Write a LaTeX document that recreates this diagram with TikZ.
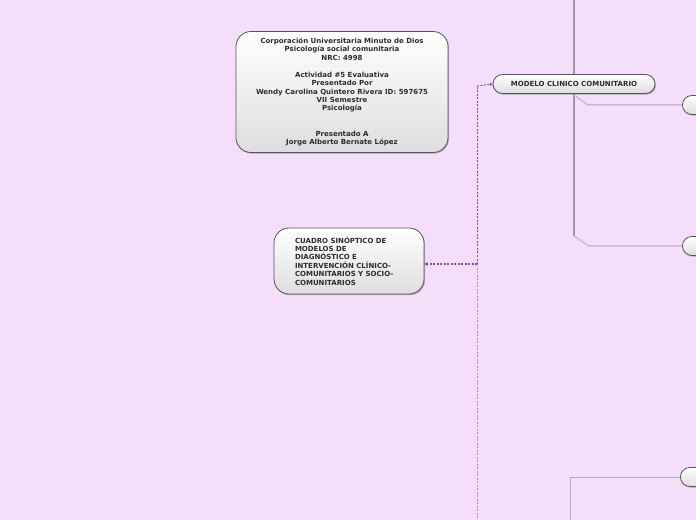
\documentclass[tikz,border=0pt]{standalone}
\usepackage{fontspec}
\setmainfont{DejaVu Sans}
\usetikzlibrary{arrows.meta,shadows}
\definecolor{bg}{RGB}{244,222,249}
\definecolor{boxline}{RGB}{85,85,90}
\definecolor{trunk}{RGB}{160,150,165}
\definecolor{branch}{RGB}{205,185,210}
\definecolor{bracket}{RGB}{185,165,195}
\definecolor{dashdark}{RGB}{125,85,160}
\definecolor{dashlight}{RGB}{180,140,210}
\definecolor{txt}{RGB}{45,45,45}
\tikzset{
  x=1bp, y=-1bp,
  topicbox/.style={draw=boxline, line width=0.8bp, top color=white, bottom color=black!13,
    drop shadow={shadow xshift=1bp, shadow yshift=-1.2bp, fill=black, opacity=0.25},
    font=\fontsize{7bp}{8.42bp}\selectfont\bfseries, text=txt, inner sep=0pt},
  pill/.style={topicbox, rounded corners=9.5bp, minimum height=19bp},
  dashlink/.style={line width=1bp, dash pattern=on 2bp off 1.5bp},
}
\begin{document}
\begin{tikzpicture}
\useasboundingbox (0,0) rectangle (696,520);
\clip (0,0) rectangle (696,520);
\fill[bg] (0,0) rectangle (696,520);

% trunk and branches
\coordinate (ttop) at (574,-2);
\coordinate (tbend) at (574,236);
\coordinate (b1s) at (574,95);
\draw[trunk, line width=2bp] (ttop) -- (tbend);
\draw[branch, line width=1.5bp] (b1s) -- (588,105) -- (683,105);
\draw[branch, line width=1.5bp] (tbend) -- (589,246) -- (683,246);

% bottom bracket
\coordinate (brtop) at (570,477);
\coordinate (brbot) at (570,525);
\draw[bracket, line width=1bp] (brbot) -- (brtop) -- (681,477);

% nodes
\node[topicbox, rounded corners=15bp, minimum width=212bp, minimum height=121bp, align=center]
 (title) at (342,92) {Corporación Universitaria Minuto de Dios\\Psicología social comunitaria\\NRC: 4998\\[8.42bp]Actividad \#5 Evaluativa\\Presentado Por\\Wendy Carolina Quintero Rivera ID: 597675\\VII Semestre\\Psicología\\[16.84bp]Presentado A\\Jorge Alberto Bernate López};

\node[topicbox, rounded corners=15bp, minimum width=150bp, minimum height=66bp, text width=108bp, align=left]
 (central) at (349,261) {CUADRO SINÓPTICO DE\\MODELOS DE\\DIAGNÓSTICO E\\INTERVENCIÓN CLÍNICO-\\COMUNITARIOS Y SOCIO-\\COMUNITARIOS};

\node[pill, minimum width=162bp] (modelo) at (574,84) {MODELO CLINICO COMUNITARIO};

\node[pill, minimum width=100bp, anchor=west] (r1) at (682,105) {};
\node[pill, minimum width=100bp, anchor=west] (r2) at (682,246) {};
\node[pill, minimum width=100bp, anchor=west] (r3) at (680,477) {};

% dashed relation lines
\coordinate (dtop) at (477,86);
\coordinate (dmid) at (477,264);
\coordinate (dbot) at (477,525);
\draw[dashlink, dashdark] (dmid) -- (dtop);
\draw[dashlink, dashdark, -{Stealth[length=3bp,width=3.5bp]}] (dtop) -- (modelo.west);
\draw[dashlink, dashlight] (dmid) -- (dbot);
\draw[dashlink, dashdark, line width=1.6bp, -{Stealth[length=3.5bp,width=4bp]}] (dmid) -- (central.east |- dmid);
\end{tikzpicture}
\end{document}
